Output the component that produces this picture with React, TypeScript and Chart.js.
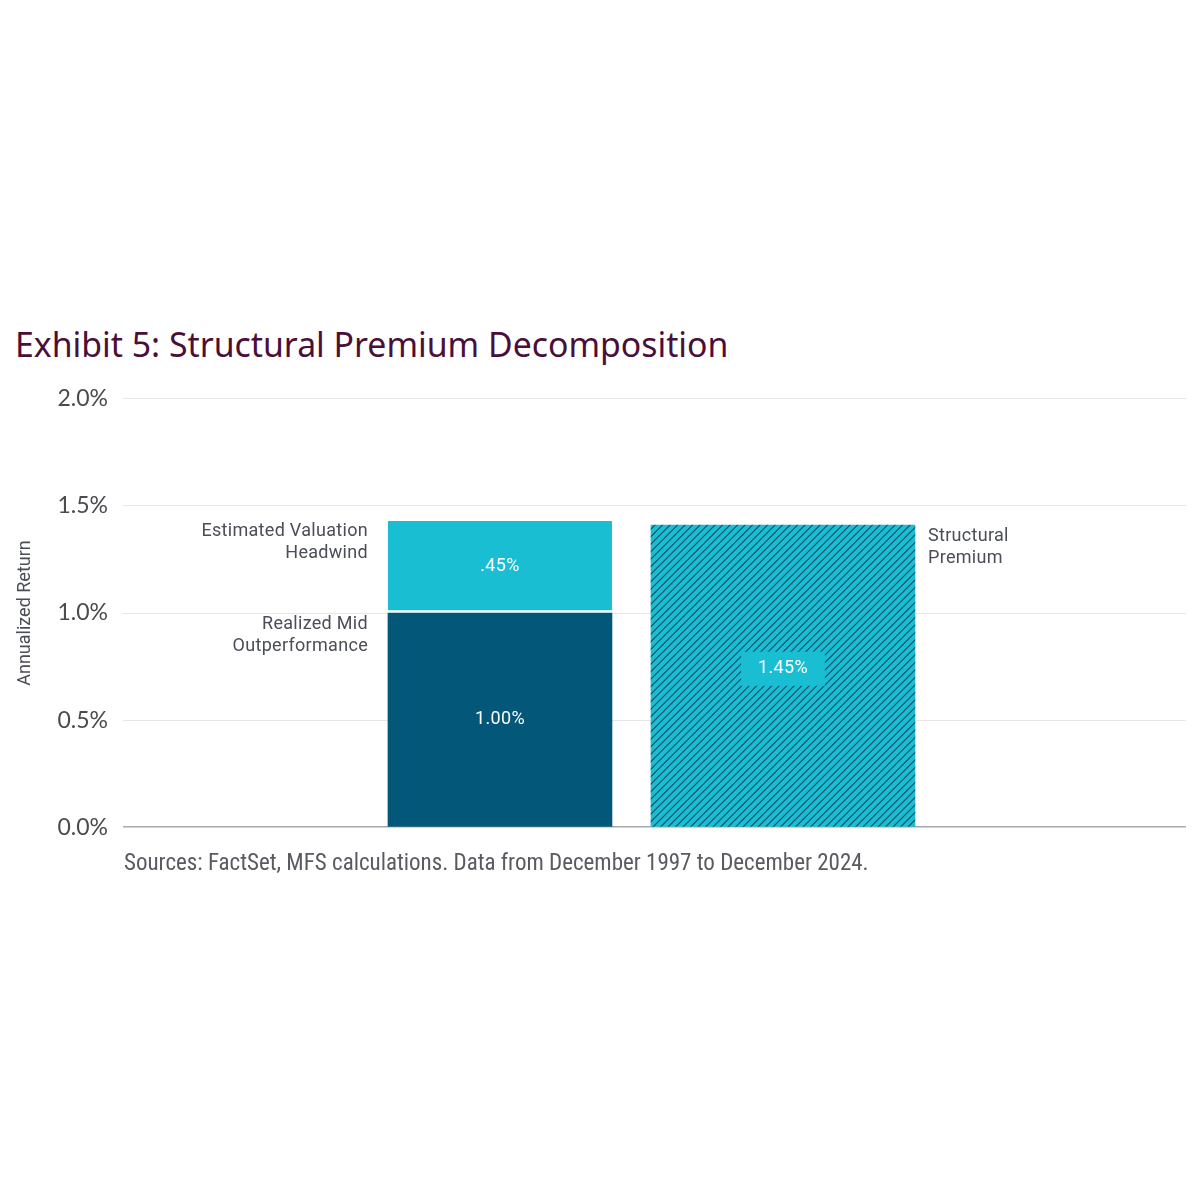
import { useEffect, useRef } from "react";
import { Chart, registerables, type Plugin } from "chart.js";

Chart.register(...registerables);

// two bar positions: the decomposition stack and the structural premium bar
const categories = ["Decomposition", "Structural Premium"];
const realizedMid = [1.0, null];
const valuationHeadwind = [0.43, null];
const structuralPremium = [null, 1.41];

const realizedText = ["1.00%", ""];
const headwindText = [".45%", ""];
const structuralText = ["", "1.45%"];

const realizedSide = ["Realized Mid", "Outperformance"];
const headwindSide = ["Estimated Valuation", "Headwind"];
const structuralSide = ["Structural", "Premium"];

const yTicks = [0, 0.5, 1.0, 1.5, 2.0];

const DARK = "#03587a";
const CYAN = "#1abed3";
const LABEL = "#4b4d57";

const toPoints = (vals: (number | null)[]) =>
  vals.map((y, i) => ({ x: i, y })).filter((p) => p.y !== null);

function makeHatch(bg: string, line: string) {
  const size = 15;
  const c = document.createElement("canvas");
  c.width = size;
  c.height = size;
  const g = c.getContext("2d")!;
  g.fillStyle = bg;
  g.fillRect(0, 0, size, size);
  g.strokeStyle = line;
  g.lineWidth = 1.2;
  g.beginPath();
  [0, 7.5, 15, 22.5, 30].forEach((s) => {
    g.moveTo(s + 3, -3);
    g.lineTo(-3, s + 3);
  });
  g.stroke();
  return g.createPattern(c, "repeat")!;
}

const barLabels: Plugin<"bar"> = {
  id: "barLabels",
  afterDatasetsDraw(chart) {
    const ctx = chart.ctx as any;
    chart.data.datasets.forEach((ds: any, di) => {
      const meta = chart.getDatasetMeta(di);
      meta.data.forEach((el: any, k: number) => {
        const { x, y, base, width } = el.getProps(["x", "y", "base", "width"], true);
        const idx = (ds.data[k] as any).x;
        const text = ds.valueText[idx];
        ctx.save();
        ctx.font = "18px Roboto";
        ctx.letterSpacing = "0.3px";
        ctx.textBaseline = "middle";
        ctx.textAlign = "center";
        if (text) {
          const cy = (y + base) / 2 + (ds.boxed ? -7 : 0);
          if (ds.boxed) {
            const w = ctx.measureText(text).width + 34;
            ctx.fillStyle = CYAN;
            ctx.fillRect(x - w / 2, cy - 17, w, 34);
          }
          ctx.fillStyle = "#ffffff";
          ctx.fillText(text, x, cy);
        }
        ctx.fillStyle = LABEL;
        const left = ds.side === "left";
        ctx.textAlign = left ? "right" : "left";
        const tx = left ? x - width / 2 - 20 : x + width / 2 + 13;
        ds.sideText.forEach((line: string, li: number) => {
          ctx.fillText(line, tx, y + 11 + li * 22);
        });
        ctx.restore();
      });
    });
  },
};

export default function App() {
  const canvasRef = useRef<HTMLCanvasElement | null>(null);
  const chartRef = useRef<Chart | null>(null);

  useEffect(() => {
    if (!canvasRef.current) return;
    if (chartRef.current) chartRef.current.destroy();

    const hatch = makeHatch(CYAN, "#0c4f6b");

    chartRef.current = new Chart(canvasRef.current, {
      type: "bar",
      data: {
        labels: categories,
        datasets: [
          {
            label: "Realized Mid Outperformance",
            data: toPoints(realizedMid) as any,
            backgroundColor: DARK,
            borderWidth: 0,
            barThickness: 224,
            grouped: false,
            valueText: realizedText,
            sideText: realizedSide,
            side: "left",
          } as any,
          {
            label: "Estimated Valuation Headwind",
            data: toPoints(valuationHeadwind) as any,
            backgroundColor: CYAN,
            borderColor: "#ffffff",
            borderWidth: { top: 0, left: 0, right: 0, bottom: 3 },
            borderSkipped: false,
            barThickness: 224,
            grouped: false,
            valueText: headwindText,
            sideText: headwindSide,
            side: "left",
          } as any,
          {
            label: "Structural Premium",
            data: toPoints(structuralPremium) as any,
            backgroundColor: hatch,
            borderWidth: 0,
            barThickness: 264,
            grouped: false,
            valueText: structuralText,
            sideText: structuralSide,
            side: "right",
            boxed: true,
          } as any,
        ],
      },
      options: {
        responsive: true,
        maintainAspectRatio: false,
        animation: false,
        layout: { padding: { top: 0, right: 14, bottom: 0, left: 0 } },
        plugins: {
          legend: { display: false },
          tooltip: { enabled: false },
        },
        scales: {
          x: {
            type: "linear",
            display: false,
            offset: false,
            min: -1.332,
            max: 2.424,
          },
          y: {
            stacked: true,
            min: 0,
            max: 2,
            afterFit: (scale) => {
              scale.width = 123;
            },
            afterBuildTicks: (scale) => {
              scale.ticks = yTicks.map((v) => ({ value: v }));
            },
            border: { display: false },
            grid: {
              drawTicks: false,
              color: (c) => (c.tick && c.tick.value === 0 ? "#a8a9ad" : "#e6e6e6"),
              lineWidth: (c) => (c.tick && c.tick.value === 0 ? 1.6 : 1),
            },
            ticks: {
              padding: 15,
              color: "#4a4a4f",
              font: { family: "Lato", size: 23 },
              callback: (v) => Number(v).toFixed(1) + "%",
            },
            title: {
              display: true,
              text: "Annualized Return",
              color: LABEL,
              font: { family: "Roboto", size: 18 },
              padding: { top: 15, bottom: 0 },
            },
          },
        },
      },
      plugins: [barLabels],
    });

    return () => {
      chartRef.current?.destroy();
      chartRef.current = null;
    };
  }, []);

  return (
    <div style={{ position: "absolute", left: 0, top: 0, width: 1200, height: 1200, background: "#fff" }}>
      <div
        style={{
          position: "absolute",
          left: 15,
          top: 321,
          fontFamily: "'Noto Sans'",
          fontSize: 33.8,
          color: "#4a0f38",
          whiteSpace: "nowrap",
        }}
      >
        Exhibit 5: Structural Premium Decomposition
      </div>
      <div style={{ position: "absolute", left: 0, top: 370, width: 1200, height: 486 }}>
        <canvas ref={canvasRef} />
      </div>
      <div
        style={{
          position: "absolute",
          left: 124,
          top: 849,
          fontFamily: "'Liberation Sans Narrow', 'Roboto Condensed', sans-serif",
          fontSize: 23,
          color: "#5a5b61",
          whiteSpace: "nowrap",
        }}
      >
        Sources: FactSet, MFS calculations. Data from December 1997 to December 2024.
      </div>
    </div>
  );
}
